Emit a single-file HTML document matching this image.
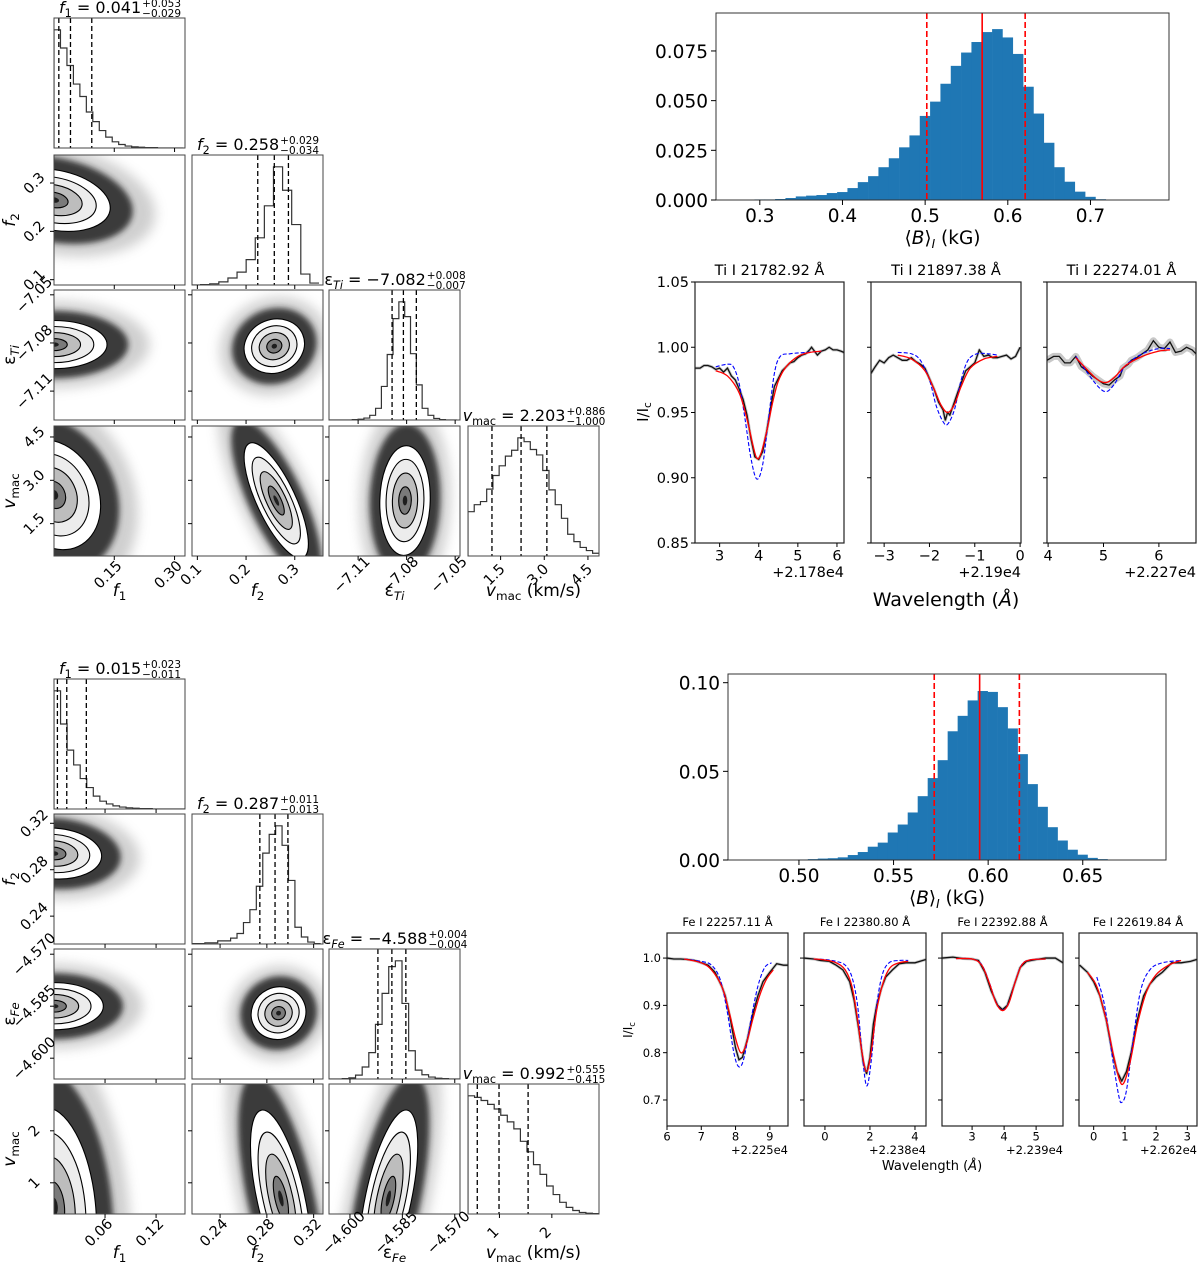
<!DOCTYPE html>
<html><head><meta charset="utf-8"><style>
html,body{margin:0;padding:0;background:#fff;overflow:hidden;width:1200px;height:1272px;}
svg{display:block;font-family:"DejaVu Sans","Liberation Sans",sans-serif;}
</style></head><body>
<svg id="fig" xmlns="http://www.w3.org/2000/svg" width="1200" height="1272" viewBox="0 0 1200 1272">
<defs>
<filter id="blur3" x="-50%" y="-50%" width="200%" height="200%"><feGaussianBlur stdDeviation="3"/></filter>
<filter id="blur6" x="-50%" y="-50%" width="200%" height="200%"><feGaussianBlur stdDeviation="6"/></filter>
</defs>
</svg>
<script>
// ---------- DATA ----------
const topRanges=[[0,0.326],[0.089,0.358],[-7.128,-7.047],[0.38,4.88]];
const topTicks=[[0.15,0.30],[0.1,0.2,0.3],[-7.11,-7.08,-7.05],[1.5,3.0,4.5]];
const topTickLabels=[['0.15','0.30'],['0.1','0.2','0.3'],['\u22127.11','\u22127.08','\u22127.05'],['1.5','3.0','4.5']];
const topHistLo=[0,0.088,-7.128,0.38];
const topHistW=[0.0161,0.0187,0.0036,0.214];
const topHistF1=[305,258,213,165,133,93,68,45,28,16,9,5,3,2,1,1,0,0,0,0];
const topHistF2=[0,1,3,8,18,33,65,121,203,303,243,155,28,5];
const topHistE=[0,0,0,0,1,2,5,12,30,86,168,260,303,265,170,90,30,12,4,1,0,0];
const topHistV=[114,132,140,172,207,232,257,272,304,294,274,260,220,170,132,97,56,37,22,14,7];
const topQuant=[[0.012,0.041,0.094],[0.224,0.258,0.287],[-7.089,-7.082,-7.074],[1.203,2.203,3.089]];
const topPairs=[[0,1,0.0,0.265,0.070,0.0325,-0.25],[0,2,0.0,-7.081,0.066,0.0075,0.0],[1,2,0.258,-7.082,0.031,0.0085,0.1],[0,3,0.0,2.5,0.058,0.95,-0.2],[1,3,0.262,2.3,0.033,1.0,-0.75],[2,3,-7.081,2.3,0.0078,0.95,0.05]];
const topTitleVals=[['0.041','+0.053','\u22120.029'],['0.258','+0.029','\u22120.034'],['\u22127.082','+0.008','\u22120.007'],['2.203','+0.886','\u22121.000']];

const botRanges=[[0,0.154],[0.216,0.328],[-4.606,-4.5685],[0.40,2.90]];
const botTicks=[[0.06,0.12],[0.24,0.28,0.32],[-4.600,-4.585,-4.570],[1,2]];
const botTickLabels=[['0.06','0.12'],['0.24','0.28','0.32'],['\u22124.600','\u22124.585','\u22124.570'],['1','2']];
const botHistLo=[0,0.216,-4.606,0.40];
const botHistW=[0.0077,0.0055,0.0019,0.125];
const botHistF1=[303,218,151,113,78,55,33,20,13,8,5,3,2,1,1,0,0,0,0,0];
const botHistF2=[1,1,3,3,8,8,15,27,55,88,148,233,281,303,253,163,43,18,5,1];
const botHistE=[0,0,1,3,10,31,68,141,221,290,305,195,73,23,11,5,2,1,0,0];
const botHistV=[304,300,292,282,270,254,237,219,187,160,127,102,72,50,30,17,9,4,2,1];
const botQuant=[[0.004,0.015,0.038],[0.274,0.287,0.298],[-4.592,-4.588,-4.584],[0.577,0.992,1.547]];
const botPairs=[[0,1,0.0,0.294,0.028,0.011,-0.1],[0,2,0.0,-4.585,0.029,0.0034,0.0],[1,2,0.290,-4.587,0.0117,0.0038,0.05],[0,3,0.0,0.55,0.025,0.95,-0.2],[1,3,0.292,0.7,0.013,0.85,-0.6],[2,3,-4.589,0.7,0.0042,0.85,0.6]];
const botTitleVals=[['0.015','+0.023','\u22120.011'],['0.287','+0.011','\u22120.013'],['\u22124.588','+0.004','\u22120.004'],['0.992','+0.555','\u22120.415']];

const tiBinStart=0.2935, tiBinW=0.0125;
const tiBins=[0.0003,0.0003,0.0005,0.001,0.0018,0.0022,0.0025,0.0035,0.004,0.006,0.009,0.012,0.0165,0.021,0.0265,0.0325,0.0423,0.0495,0.0585,0.0675,0.0742,0.0795,0.0845,0.086,0.0818,0.0735,0.057,0.0435,0.0288,0.0165,0.0092,0.0042,0.0016,0.0004];
const tiLines=[0.502,0.569,0.621];
const tiXTicks=[0.3,0.4,0.5,0.6,0.7];
const tiXTickLabels=['0.3','0.4','0.5','0.6','0.7'];
const tiYTicks=[0,0.025,0.05,0.075];
const tiYTickLabels=['0.000','0.025','0.050','0.075'];
const feBinStart=0.4994, feBinW=0.00528;
const feBins=[0.0003,0.0005,0.0008,0.001,0.0015,0.0028,0.0045,0.0075,0.0098,0.0155,0.020,0.0268,0.036,0.0462,0.0563,0.0726,0.0813,0.0900,0.0953,0.0948,0.0862,0.0742,0.0597,0.0428,0.0300,0.0185,0.0110,0.0058,0.0030,0.0012,0.0005];
const feLines=[0.5715,0.5955,0.6165];
const feXTicks=[0.50,0.55,0.60,0.65];
const feXTickLabels=['0.50','0.55','0.60','0.65'];
const feYTicks=[0,0.05,0.10];
const feYTickLabels=['0.00','0.05','0.10'];

const ti1ObsX=[2.37,2.5,2.6,2.7,2.8,2.9,3.0,3.1,3.2,3.3,3.4,3.5,3.6,3.7,3.8,3.9,4.0,4.1,4.2,4.3,4.4,4.5,4.6,4.7,4.8,4.9,5.0,5.1,5.2,5.3,5.35,5.45,5.5,5.6,5.7,5.8,5.9,6.0,6.1,6.18];
const ti1ObsY=[.984,.984,.986,.986,.985,.983,.984,.981,.984,.978,.975,.968,.96,.948,.93,.916,.914,.92,.935,.953,.97,.976,.982,.985,.988,.989,.992,.994,.995,.998,1.0,.996,.994,.997,.998,1.0,.998,.998,.997,.996];
const ti1RedX=[2.9,3.2,3.5,3.7,3.85,3.95,4.05,4.2,4.35,4.5,4.7,5.0,5.3,5.6];
const ti1RedY=[.982,.978,.965,.945,.925,.915,.918,.935,.957,.974,.985,.993,.996,.997];
const ti1BlueX=[2.9,3.2,3.35,3.5,3.65,3.8,3.95,4.1,4.25,4.4,4.55,4.8,5.2,5.6];
const ti1BlueY=[.985,.987,.985,.972,.945,.915,.899,.91,.945,.98,.993,.995,.996,.997];
const ti2ObsX=[-3.29,-3.2,-3.1,-3.0,-2.9,-2.8,-2.7,-2.6,-2.5,-2.4,-2.3,-2.2,-2.1,-2.0,-1.9,-1.8,-1.7,-1.65,-1.6,-1.55,-1.45,-1.35,-1.2,-1.1,-1.0,-0.9,-0.8,-0.7,-0.6,-0.5,-0.4,-0.3,-0.2,-0.1,0.0];
const ti2ObsY=[.98,.985,.99,.988,.992,.994,.992,.99,.99,.992,.989,.987,.984,.976,.968,.958,.952,.944,.95,.948,.958,.968,.982,.985,.988,.998,.993,.994,.992,.992,.993,.994,.991,.993,1.0];
const ti2RedX=[-2.7,-2.4,-2.1,-1.9,-1.75,-1.6,-1.45,-1.3,-1.1,-0.8,-0.5];
const ti2RedY=[.994,.991,.982,.968,.956,.95,.956,.97,.984,.991,.993];
const ti2BlueX=[-2.7,-2.4,-2.2,-2.0,-1.85,-1.7,-1.6,-1.45,-1.3,-1.15,-0.95,-0.7,-0.5];
const ti2BlueY=[.996,.995,.99,.975,.955,.943,.941,.952,.975,.99,.995,.995,.994];
const ti3ObsX=[3.98,4.1,4.2,4.3,4.4,4.5,4.6,4.7,4.8,4.9,5.0,5.1,5.2,5.3,5.35,5.45,5.5,5.6,5.7,5.8,5.9,6.0,6.1,6.2,6.3,6.4,6.5,6.6,6.67];
const ti3ObsY=[.99,.993,.993,.988,.988,.993,.985,.982,.978,.975,.972,.971,.975,.978,.984,.987,.99,.992,.995,.998,1.005,1.0,.999,1.004,.996,.997,1.0,.998,.995];
const ti3RedX=[4.5,4.7,4.9,5.05,5.2,5.4,5.7,6.0,6.2];
const ti3RedY=[.992,.983,.975,.973,.977,.986,.993,.997,.998];
const ti3BlueX=[4.5,4.7,4.9,5.05,5.2,5.4,5.7,6.0,6.2];
const ti3BlueY=[.993,.981,.97,.966,.972,.986,.995,.999,.999];
const fe1ObsX=[6.0,6.2,6.4,6.6,6.8,7.0,7.2,7.4,7.5,7.6,7.7,7.85,8.0,8.1,8.2,8.35,8.5,8.65,8.8,9.0,9.2,9.4,9.53];
const fe1ObsY=[1.0,.998,.998,.997,.995,.99,.985,.97,.955,.94,.92,.87,.81,.785,.79,.83,.88,.92,.95,.97,.988,.985,.985];
const fe1RedX=[6.5,7.0,7.3,7.6,7.8,8.0,8.15,8.3,8.5,8.7,8.9,9.1];
const fe1RedY=[.998,.99,.975,.94,.89,.83,.80,.815,.87,.92,.955,.975];
const fe1BlueX=[6.5,7.0,7.3,7.55,7.75,7.95,8.1,8.25,8.45,8.65,8.85,9.05];
const fe1BlueY=[.998,.993,.985,.955,.89,.80,.77,.79,.87,.94,.98,.99];
const fe2ObsX=[-0.93,-0.5,-0.2,0.2,0.5,0.8,1.1,1.3,1.5,1.7,1.85,2.0,2.15,2.3,2.5,2.7,3.0,3.3,3.6,4.0,4.49];
const fe2ObsY=[1.0,.998,.995,.993,.985,.975,.95,.91,.85,.78,.755,.79,.86,.9,.935,.96,.975,.988,.99,.99,.997];
const fe2RedX=[-0.5,0.0,0.5,0.9,1.2,1.45,1.65,1.85,2.05,2.3,2.6,2.9,3.3,3.7];
const fe2RedY=[.998,.996,.99,.975,.94,.87,.8,.76,.8,.89,.95,.98,.99,.993];
const fe2BlueX=[-0.5,0.0,0.5,0.9,1.2,1.45,1.65,1.85,2.05,2.3,2.55,2.85,3.3,3.7];
const fe2BlueY=[.998,.997,.993,.985,.96,.9,.8,.73,.78,.9,.965,.99,.995,.995];
const fe3ObsX=[2.06,2.4,2.7,3.0,3.2,3.4,3.6,3.8,3.95,4.1,4.3,4.5,4.7,5.0,5.3,5.6,5.84];
const fe3ObsY=[1.0,1.002,.999,.998,.995,.97,.93,.9,.891,.9,.94,.98,.993,.997,1.0,1.0,.99];
const fe3RedX=[2.5,3.0,3.3,3.55,3.75,3.95,4.15,4.35,4.55,4.8,5.3];
const fe3RedY=[.999,.998,.985,.945,.905,.889,.905,.95,.985,.996,.998];
const fe3BlueX=[2.5,3.0,3.3,3.55,3.75,3.95,4.15,4.35,4.55,4.8,5.3];
const fe3BlueY=[.999,.998,.986,.946,.906,.89,.906,.951,.986,.996,.998];
const fe4ObsX=[-0.45,-0.2,0.0,0.2,0.4,0.6,0.75,0.9,1.05,1.2,1.4,1.6,1.8,2.0,2.2,2.5,2.8,3.1,3.3];
const fe4ObsY=[.985,.97,.95,.92,.87,.8,.76,.74,.76,.8,.87,.92,.945,.96,.97,.99,.99,.993,.997];
const fe4RedX=[-0.2,0.1,0.4,0.65,0.9,1.15,1.4,1.7,2.0,2.4,2.8];
const fe4RedY=[.97,.94,.87,.79,.733,.775,.86,.93,.965,.985,.995];
const fe4BlueX=[0.1,0.35,0.6,0.8,0.9,1.05,1.25,1.5,1.8,2.2,2.8];
const fe4BlueY=[.96,.9,.79,.71,.695,.72,.82,.93,.975,.99,.995];

// ---------- HELPERS ----------
const NS='http://www.w3.org/2000/svg';
const svg=document.getElementById('fig');
function mk(tag,parent,attrs){const e=document.createElementNS(NS,tag);if(attrs)for(const k in attrs)e.setAttribute(k,attrs[k]);parent.appendChild(e);return e;}
function lin(d0,d1,p0,p1){return v=>p0+(v-d0)/(d1-d0)*(p1-p0);}
let clipN=0;
function clip(x,y,w,h){const id='c'+(clipN++);const cp=mk('clipPath',svg.querySelector('defs'),{id:id});mk('rect',cp,{x:x,y:y,width:w,height:h});return 'url(#'+id+')';}
function smooth(pts){let d='M'+pts[0][0]+','+pts[0][1];for(let i=0;i<pts.length-1;i++){const p0=pts[Math.max(0,i-1)],p1=pts[i],p2=pts[i+1],p3=pts[Math.min(pts.length-1,i+2)];const c1x=p1[0]+(p2[0]-p0[0])/6,c1y=p1[1]+(p2[1]-p0[1])/6,c2x=p2[0]-(p3[0]-p1[0])/6,c2y=p2[1]-(p3[1]-p1[1])/6;d+=' C'+c1x+','+c1y+' '+c2x+','+c2y+' '+p2[0]+','+p2[1];}return d;}
function poly(pts){return 'M'+pts.map(p=>p[0]+','+p[1]).join(' L');}

const labelHTML=['<tspan font-style="italic">f</tspan><tspan font-size="70%" dy="4">1</tspan>',
 '<tspan font-style="italic">f</tspan><tspan font-size="70%" dy="4">2</tspan>',
 null,
 '<tspan font-style="italic">v</tspan><tspan font-size="70%" dy="4">mac</tspan>'];
const titleSym=['<tspan font-style="italic">f</tspan><tspan font-size="70%" dy="4">1</tspan><tspan dy="-4"> = ',
 '<tspan font-style="italic">f</tspan><tspan font-size="70%" dy="4">2</tspan><tspan dy="-4"> = ',
 null,
 '<tspan font-style="italic">v</tspan><tspan font-size="70%" dy="4">mac</tspan><tspan dy="-4"> = '];

// ---------- CORNER ----------
function corner(prefix,cols,rows,ranges,ticks,tickLabels,hists,histLo,histW,quants,pairs,titleVals,elem,xlabY){
 const W=131,H=130;
 const root=mk('g',svg);
 
 
 const sc=[];
 for(let p=0;p<4;p++){sc.push({x:lin(ranges[p][0],ranges[p][1],cols[p],cols[p]+W),y:lin(ranges[p][0],ranges[p][1],rows[p]+H,rows[p])});}
 const epsLabel='\u03b5<tspan font-style="italic" font-size="70%" dy="4">'+elem+'</tspan>';
 const lbl=[labelHTML[0],labelHTML[1],epsLabel,labelHTML[3]];
 for(let i=0;i<4;i++){
  const g=mk('g',root);
  
  
  const x0=cols[i],y0=rows[i],X=sc[i].x;
  const hv=hists[i];const mx=Math.max(...hv)*1.1;
  const Y=v=>y0+H-v/mx*H;
  const pts=[[X(histLo[i]),y0+H]];
  for(let k=0;k<hv.length;k++){const a=histLo[i]+k*histW[i],b=a+histW[i];pts.push([X(a),Y(hv[k])]);pts.push([X(b),Y(hv[k])]);}
  const path=mk('path',g,{d:poly(pts),fill:'none',stroke:'#333','stroke-width':1.2,'clip-path':clip(x0,y0,W,H)});
  
  
  quants[i].forEach((q,qi)=>{
   const l=mk('line',g,{x1:X(q),x2:X(q),y1:y0,y2:y0+H,stroke:'#000','stroke-width':1.3,'stroke-dasharray':'5,3'});
   
   
  });
  mk('rect',g,{x:x0,y:y0,width:W,height:H,fill:'none',stroke:'#444','stroke-width':1});
  const t=mk('text',g,{y:y0-5,'font-size':16,fill:'#000'});
  
  
  const sym=i==2?'\u03b5<tspan font-style="italic" font-size="70%" dy="4">'+elem+'</tspan><tspan dy="-4"> = ':titleSym[i];
  t.innerHTML=sym+titleVals[i][0]+'</tspan>';
  const tw=t.getComputedTextLength();
  const sup=mk('text',svg,{y:y0-11,'font-size':10.5});
  sup.textContent=titleVals[i][1];
  const sub=mk('text',svg,{y:y0-1,'font-size':10.5});
  sub.textContent=titleVals[i][2];
  const sw=Math.max(sup.getComputedTextLength(),sub.getComputedTextLength());
  const sx=x0+W/2-(tw+sw)/2;
  t.setAttribute('x',sx);sup.setAttribute('x',sx+tw+1);sub.setAttribute('x',sx+tw+1);
  
  
  
  
 }
 pairs.forEach(pr=>{
  const [xi,yi,cx,cy,sxd,syd,rho]=pr;
  const x0=cols[xi],y0=rows[yi];
  const g=mk('g',root,{'clip-path':clip(x0,y0,W,H)});
  
  
  const X=sc[xi].x,Y=sc[yi].y;
  const kx=W/(ranges[xi][1]-ranges[xi][0]),ky=H/(ranges[yi][1]-ranges[yi][0]);
  const Sx=sxd*kx,Sy=syd*ky,cov=-rho*Sx*Sy;
  const a=Sx*Sx,d=Sy*Sy,m=(a+d)/2,disc=Math.sqrt(((a-d)/2)**2+cov*cov);
  const r1=Math.sqrt(m+disc),r2=Math.sqrt(Math.max(m-disc,1e-6));
  const ang=0.5*Math.atan2(2*cov,a-d)*180/Math.PI;
  const px=X(cx),py=Y(cy);
  const layers=[[3.6,'#888',0.4,'url(#blur6)','none'],[2.8,'#222',0.85,'url(#blur3)','none'],[2.0,'#ffffff',1,null,'#000'],[1.5,'#ececec',1,null,'#000'],[1.0,'#bdbdbd',1,null,'#000'],[0.5,'#7a7a7a',1,null,'#000'],[0.18,'#1e1e1e',1,null,'none']];
  layers.forEach(L=>{
   const e=mk('ellipse',g,{cx:px,cy:py,rx:L[0]*r1,ry:L[0]*r2,fill:L[1],opacity:L[2],stroke:L[4],'stroke-width':1.1,transform:'rotate('+ang+' '+px+' '+py+')'});
   if(L[3])e.setAttribute('filter',L[3]);
   
   
  });
  mk('rect',root,{x:x0,y:y0,width:W,height:H,fill:'none',stroke:'#444','stroke-width':1});
 });
 for(let j=0;j<4;j++){
  for(let i=j;i<4;i++){
   ticks[j].forEach(v=>{const x=sc[j].x(v);mk('line',root,{x1:x,x2:x,y1:rows[i]+H,y2:rows[i]+H+4,stroke:'#000'});});
  }
 }
 for(let i=1;i<4;i++){
  for(let j=0;j<i;j++){
   ticks[i].forEach(v=>{const y=sc[i].y(v);mk('line',root,{x1:cols[j]-4,x2:cols[j],y1:y,y2:y,stroke:'#000'});});
  }
 }
 for(let j=0;j<4;j++){
  ticks[j].forEach((v,k)=>{const x=sc[j].x(v);const t=mk('text',root,{x:x-3,y:rows[3]+H+22,'font-size':14.5,'text-anchor':'middle',transform:'rotate(-45 '+(x-3)+' '+(rows[3]+H+22)+')'});t.textContent=tickLabels[j][k];
   
   });
  const xl=mk('text',root,{x:cols[j]+W/2,y:xlabY,'font-size':17,'text-anchor':'middle'});
  xl.innerHTML=j==3?lbl[3]+'<tspan dy="-4"> (km/s)</tspan>':lbl[j];
  
  
 }
 for(let i=1;i<4;i++){
  ticks[i].forEach((v,k)=>{const y=sc[i].y(v);const t=mk('text',root,{x:34,y:y+5,'font-size':14.5,'text-anchor':'middle',transform:'rotate(-45 34 '+y+')'});t.textContent=tickLabels[i][k];
   
   });
  const yl=mk('text',root,{x:0,y:0,'font-size':17,'text-anchor':'middle',transform:'translate(15 '+(rows[i]+H/2)+') rotate(-90)'});
  yl.innerHTML=lbl[i];
  
  
 }
}

function bhist(prefix,x0,x1,y0,y1,xr,ymax,start,w,bins,lines,xt,xtl,yt,ytl,labY){
 const g=mk('g',svg);
 
 
 const X=lin(xr[0],xr[1],x0,x1),Y=lin(0,ymax,y1,y0);
 bins.forEach((v,k)=>{
  const a=start+k*w;
  const r=mk('rect',g,{x:X(a),y:Y(v),width:X(a+w)-X(a)+0.3,height:y1-Y(v),fill:'#1f77b4'});
  
  
 });
 lines.forEach((v,k)=>{
  const l=mk('line',g,{x1:X(v),x2:X(v),y1:y0,y2:y1,stroke:'#ff0000','stroke-width':1.6});
  if(k!=1)l.setAttribute('stroke-dasharray','6,3');
  
  
 });
 mk('rect',g,{x:x0,y:y0,width:x1-x0,height:y1-y0,fill:'none',stroke:'#333','stroke-width':1});
 xt.forEach((v,k)=>{mk('line',g,{x1:X(v),x2:X(v),y1:y1,y2:y1+5,stroke:'#000'});const t=mk('text',g,{x:X(v),y:y1+22,'font-size':18.5,'text-anchor':'middle'});t.textContent=xtl[k];
  
  });
 yt.forEach((v,k)=>{mk('line',g,{x1:x0-5,x2:x0,y1:Y(v),y2:Y(v),stroke:'#000'});const t=mk('text',g,{x:x0-8,y:Y(v)+7,'font-size':18.5,'text-anchor':'end'});t.textContent=ytl[k];
  
  });
 const xl=mk('text',g,{x:(x0+x1)/2,y:labY,'font-size':18.5,'text-anchor':'middle'});
 xl.innerHTML='\u27e8<tspan font-style="italic">B</tspan>\u27e9<tspan font-size="65%" font-style="italic" dy="4">I</tspan><tspan dy="-4"> (kG)</tspan>';
 
 
}

function spec(name,x0,x1,y0,y1,xr,yr,obsX,obsY,redX,redY,bluX,bluY,xt,yt,ytl,fs,title,offset,band){
 const g=mk('g',svg);
 
 
 const X=lin(xr[0],xr[1],x0,x1),Y=lin(yr[0],yr[1],y1,y0);
 const cg=mk('g',g,{'clip-path':clip(x0,y0,x1-x0,y1-y0)});
 const op=obsX.map((v,k)=>[X(v),Y(obsY[k])]);
 const b=mk('path',cg,{d:poly(op),fill:'none',stroke:'#c8c8c8','stroke-width':band,'stroke-linejoin':'round'});
 
 
 const o=mk('path',cg,{d:poly(op),fill:'none',stroke:'#111','stroke-width':1.3});
 
 
 const bl=mk('path',cg,{d:smooth(bluX.map((v,k)=>[X(v),Y(bluY[k])])),fill:'none',stroke:'#0000ff','stroke-width':1.1,'stroke-dasharray':'4,2'});
 
 
 const rd=mk('path',cg,{d:smooth(redX.map((v,k)=>[X(v),Y(redY[k])])),fill:'none',stroke:'#ff0000','stroke-width':1.3});
 
 
 mk('rect',g,{x:x0,y:y0,width:x1-x0,height:y1-y0,fill:'none',stroke:'#222','stroke-width':1.2});
 xt.forEach(v=>{mk('line',g,{x1:X(v),x2:X(v),y1:y1,y2:y1+4,stroke:'#000'});const t=mk('text',g,{x:X(v),y:y1+fs+3,'font-size':fs,'text-anchor':'middle'});t.textContent=String(v).replace('-','\u2212');
  
  });
 yt.forEach((v,k)=>{mk('line',g,{x1:x0-4,x2:x0,y1:Y(v),y2:Y(v),stroke:'#000'});if(ytl){const t=mk('text',g,{x:x0-6,y:Y(v)+fs*0.36,'font-size':fs,'text-anchor':'end'});t.textContent=ytl[k];
  
  }});
 const tt=mk('text',g,{x:(x0+x1)/2,y:y0-7,'font-size':fs,'text-anchor':'middle'});tt.textContent=title;
 
 
 const ot=mk('text',g,{x:x1,y:y1+2*fs+5,'font-size':fs,'text-anchor':'end'});ot.textContent=offset;
 
 
}

corner('ti',[54,192,329,468],[18,155,290,426],topRanges,topTicks,topTickLabels,[topHistF1,topHistF2,topHistE,topHistV],topHistLo,topHistW,topQuant,topPairs,topTitleVals,'Ti',596);
corner('fe',[54,192,329,468],[679,814,949,1084],botRanges,botTicks,botTickLabels,[botHistF1,botHistF2,botHistE,botHistV],botHistLo,botHistW,botQuant,botPairs,botTitleVals,'Fe',1258);

bhist('ti',716,1169,13,200,[0.247,0.795],0.0941,tiBinStart,tiBinW,tiBins,tiLines,tiXTicks,tiXTickLabels,tiYTicks,tiYTickLabels,244);
bhist('fe',728,1166,674,860,[0.4625,0.694],0.1049,feBinStart,feBinW,feBins,feLines,feXTicks,feXTickLabels,feYTicks,feYTickLabels,904);

const tiY=[0.85,0.90,0.95,1.00,1.05], tiYL=['0.85','0.90','0.95','1.00','1.05'];
spec('ti-line-1',695,844,282,543,[2.37,6.18],[0.85,1.05],ti1ObsX,ti1ObsY,ti1RedX,ti1RedY,ti1BlueX,ti1BlueY,[3,4,5,6],tiY,tiYL,14.5,'Ti I 21782.92 \u00c5','+2.178e4',3);
spec('ti-line-2',871,1021,282,543,[-3.29,0.02],[0.85,1.05],ti2ObsX,ti2ObsY,ti2RedX,ti2RedY,ti2BlueX,ti2BlueY,[-3,-2,-1,0],tiY,null,14.5,'Ti I 21897.38 \u00c5','+2.19e4',3);
spec('ti-line-3',1047,1196,282,543,[3.98,6.67],[0.85,1.05],ti3ObsX,ti3ObsY,ti3RedX,ti3RedY,ti3BlueX,ti3BlueY,[4,5,6],tiY,null,14.5,'Ti I 22274.01 \u00c5','+2.227e4',7);
const feY=[0.7,0.8,0.9,1.0], feYL=['0.7','0.8','0.9','1.0'];
spec('fe-line-1',667,788,933,1126,[6.0,9.53],[0.645,1.053],fe1ObsX,fe1ObsY,fe1RedX,fe1RedY,fe1BlueX,fe1BlueY,[6,7,8,9],feY,feYL,11.5,'Fe I 22257.11 \u00c5','+2.225e4',3);
spec('fe-line-2',804,926,933,1126,[-0.93,4.49],[0.645,1.053],fe2ObsX,fe2ObsY,fe2RedX,fe2RedY,fe2BlueX,fe2BlueY,[0,2,4],feY,null,11.5,'Fe I 22380.80 \u00c5','+2.238e4',3);
spec('fe-line-3',942,1063,933,1126,[2.06,5.84],[0.645,1.053],fe3ObsX,fe3ObsY,fe3RedX,fe3RedY,fe3BlueX,fe3BlueY,[3,4,5],feY,null,11.5,'Fe I 22392.88 \u00c5','+2.239e4',3);
spec('fe-line-4',1079,1197,933,1126,[-0.47,3.31],[0.645,1.053],fe4ObsX,fe4ObsY,fe4RedX,fe4RedY,fe4BlueX,fe4BlueY,[0,1,2,3],feY,null,11.5,'Fe I 22619.84 \u00c5','+2.262e4',3);

const w1=mk('text',svg,{x:946,y:606,'font-size':19,'text-anchor':'middle'});
w1.innerHTML='Wavelength (<tspan font-style="italic">\u00c5</tspan>)';


const w2=mk('text',svg,{x:932,y:1170,'font-size':13,'text-anchor':'middle'});
w2.innerHTML='Wavelength (<tspan font-style="italic">\u00c5</tspan>)';


const i1=mk('text',svg,{x:0,y:0,'font-size':15,'text-anchor':'middle',transform:'translate(648 412) rotate(-90)'});
i1.innerHTML='I/I<tspan font-size="70%" dy="3">c</tspan>';


const i2=mk('text',svg,{x:0,y:0,'font-size':12,'text-anchor':'middle',transform:'translate(632 1030) rotate(-90)'});
i2.innerHTML='I/I<tspan font-size="70%" dy="3">c</tspan>';


</script>
</body></html>
